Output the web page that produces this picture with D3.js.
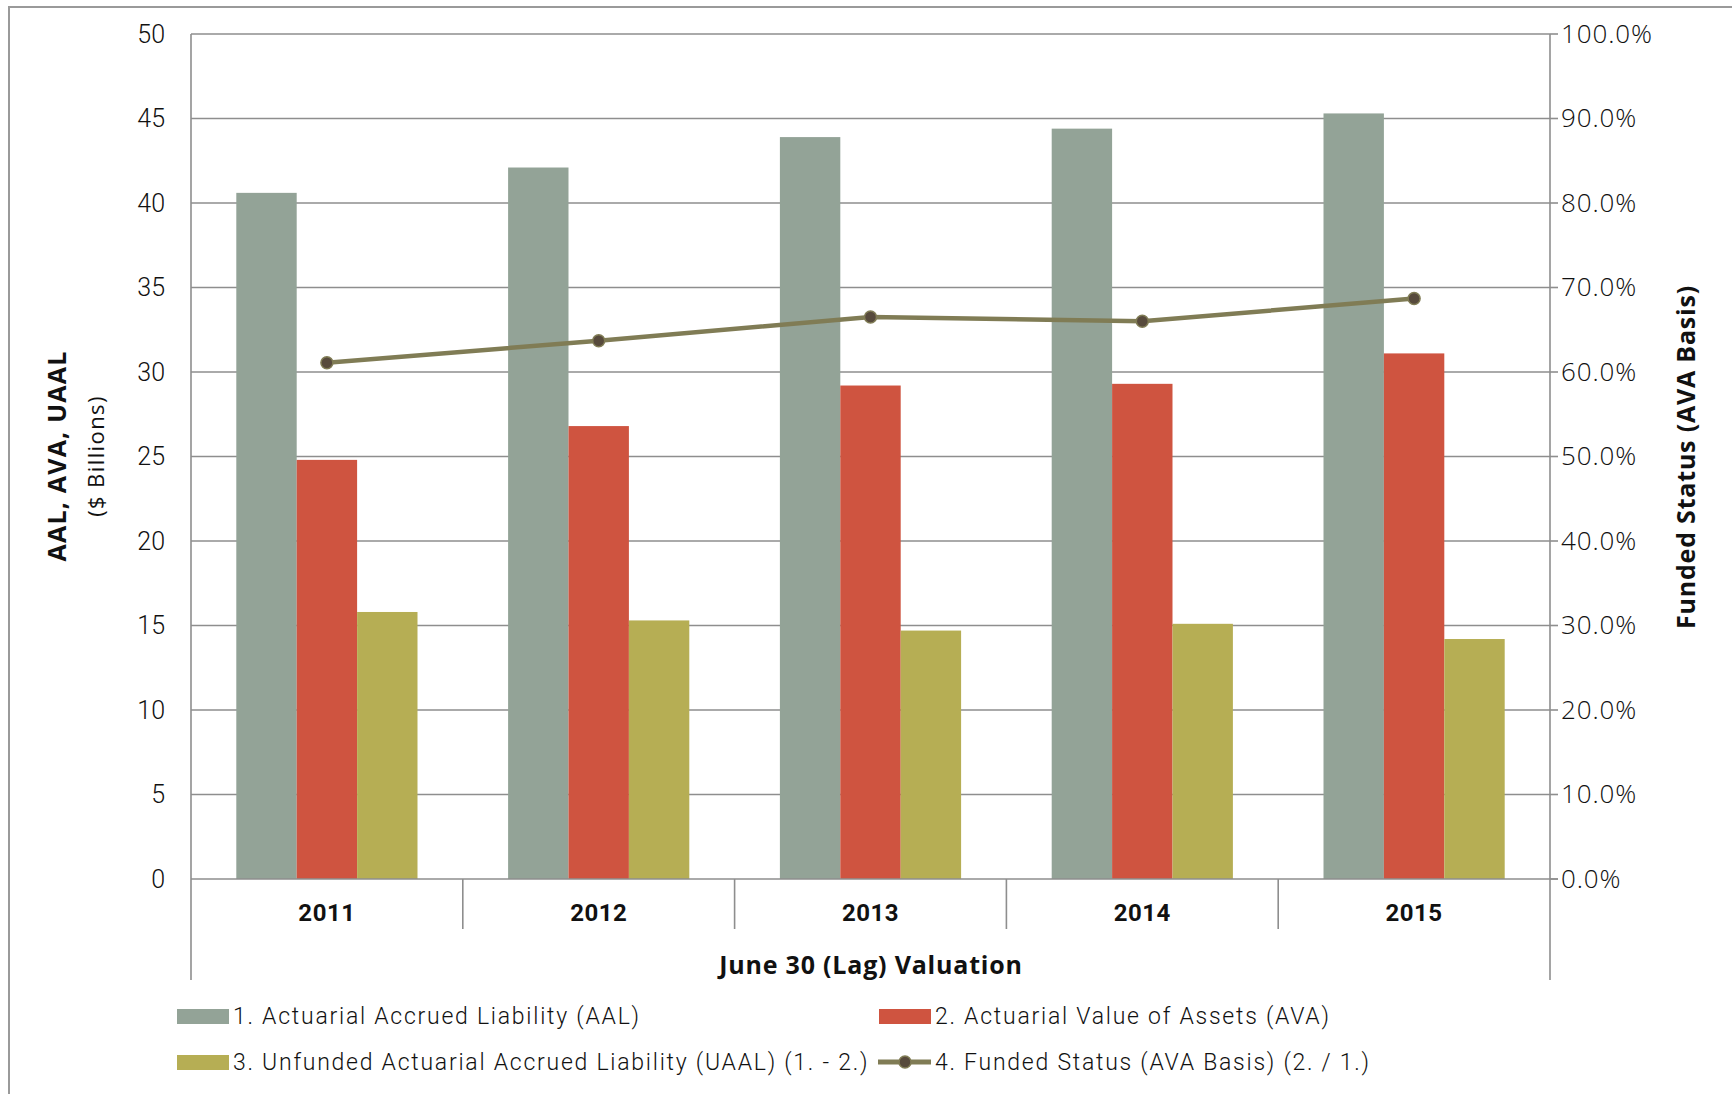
<!DOCTYPE html>
<html>
<head>
<meta charset="utf-8">
<script src="https://cdn.jsdelivr.net/npm/d3@7"></script>
<style>
  html, body { margin: 0; padding: 0; background: #fff; }
  svg { display: block; }
  text { fill: #111; }
</style>
</head>
<body>
<svg id="chart" width="1732" height="1094"></svg>
<script>
// Valuation years and series ($ billions, funded ratio in %)
const years = ["2011", "2012", "2013", "2014", "2015"];
const aal = [40.6, 42.1, 43.9, 44.4, 45.3];
const ava = [24.8, 26.8, 29.2, 29.3, 31.1];
const uaal = [15.8, 15.3, 14.7, 15.1, 14.2];
const funded = [61.1, 63.7, 66.5, 66.0, 68.7];

const leftTicks = [0, 5, 10, 15, 20, 25, 30, 35, 40, 45, 50];
const rightTicks = [0, 10, 20, 30, 40, 50, 60, 70, 80, 90, 100];

const seriesNames = ["1. Actuarial Accrued Liability (AAL)",
                     "2. Actuarial Value of Assets (AVA)",
                     "3. Unfunded Actuarial Accrued Liability (UAAL) (1. - 2.)",
                     "4. Funded Status (AVA Basis) (2. / 1.)"];
const colors = ["#93a397", "#cf5440", "#b6ae54"];
const lineColor = "#807c55";
const markerFill = "#574a3c";
const gridColor = "#8e8e8e";

const svg = d3.select("#chart");
const m = { left: 191, right: 1550, top: 34, bottom: 879 };

// outer frame
svg.append("path")
  .attr("d", `M9,1100 L9,7 L1740,7`)
  .attr("fill", "none").attr("stroke", "#9a9a9a").attr("stroke-width", 2);

const x = d3.scaleBand().domain(years).range([m.left, m.right]).paddingInner(0).paddingOuter(0);
// three bars per year, gap between groups 150% of a bar
const xs = d3.scaleBand().domain([0, 1, 2]).range([0, x.bandwidth()]).paddingInner(0).paddingOuter(0.75);
const y = d3.scaleLinear().domain([0, 50]).range([m.bottom, m.top]);
const y2 = d3.scaleLinear().domain([0, 100]).range([m.bottom, m.top]);

// horizontal gridlines
svg.append("g").selectAll("line").data(leftTicks.filter(d => d > 0)).join("line")
  .attr("x1", m.left).attr("x2", m.right)
  .attr("y1", d => y(d)).attr("y2", d => y(d))
  .attr("stroke", gridColor).attr("stroke-width", 1.6);

// bars
const groups = [aal, ava, uaal];
const barData = [];
years.forEach((yr, i) => groups.forEach((s, k) => barData.push({ yr, k, v: s[i] })));
svg.append("g").selectAll("rect").data(barData).join("rect")
  .attr("x", d => x(d.yr) + xs(d.k))
  .attr("width", xs.bandwidth())
  .attr("y", d => y(d.v))
  .attr("height", d => y(0) - y(d.v))
  .attr("fill", d => colors[d.k]);

// axes frame lines
const ax = svg.append("g").attr("stroke", gridColor).attr("stroke-width", 1.6);
ax.append("line").attr("x1", m.left).attr("x2", m.left).attr("y1", m.top).attr("y2", 980);
ax.append("line").attr("x1", m.right).attr("x2", m.right).attr("y1", m.top).attr("y2", 980);
ax.append("line").attr("x1", m.left).attr("x2", m.right + 8).attr("y1", m.bottom).attr("y2", m.bottom);
// category dividers below the baseline
ax.selectAll(".div").data(years.slice(1)).join("line")
  .attr("x1", d => x(d)).attr("x2", d => x(d))
  .attr("y1", m.bottom).attr("y2", 929);
// right-axis tick marks
ax.selectAll(".rt").data(rightTicks).join("line")
  .attr("x1", m.right).attr("x2", m.right + 8)
  .attr("y1", d => y2(d)).attr("y2", d => y2(d));

// left tick labels
const leftAxis = d3.axisLeft(y).tickValues(leftTicks).tickSize(0).tickPadding(26);
const gl = svg.append("g").attr("transform", `translate(${m.left},0)`).call(leftAxis);
gl.select(".domain").remove();
gl.selectAll("text").attr("font-family", "Roboto, sans-serif").attr("font-weight", 300)
  .attr("font-size", 25).attr("fill", "#111");

// right tick labels
const rightAxis = d3.axisRight(y2).tickValues(rightTicks).tickSize(0).tickPadding(11)
  .tickFormat(d => d.toFixed(1) + "%");
const gr = svg.append("g").attr("transform", `translate(${m.right},0)`).call(rightAxis);
gr.select(".domain").remove();
gr.selectAll("text").attr("font-family", "'Open Sans', sans-serif").attr("font-weight", 300)
  .attr("font-size", 26).attr("letter-spacing", 0.9).attr("fill", "#111");

// category labels
svg.append("g").selectAll("text").data(years).join("text")
  .attr("x", d => x(d) + x.bandwidth() / 2).attr("y", 921)
  .attr("text-anchor", "middle")
  .attr("font-family", "Roboto, sans-serif").attr("font-weight", 700).attr("font-size", 24)
  .attr("letter-spacing", 0.5)
  .text(d => d);

// axis titles
svg.append("text").attr("x", 871).attr("y", 974).attr("text-anchor", "middle")
  .attr("font-family", "'Open Sans', sans-serif").attr("font-weight", 700).attr("font-size", 25)
  .attr("letter-spacing", 0.8)
  .text("June 30 (Lag) Valuation");

svg.append("text").attr("transform", "translate(66,456) rotate(-90)").attr("text-anchor", "middle")
  .attr("font-family", "'Open Sans', sans-serif").attr("font-weight", 700).attr("font-size", 25)
  .attr("letter-spacing", 1.2)
  .text("AAL, AVA, UAAL");
svg.append("text").attr("transform", "translate(104,456) rotate(-90)").attr("text-anchor", "middle")
  .attr("font-family", "'Open Sans', sans-serif").attr("font-weight", 400).attr("font-size", 22)
  .attr("letter-spacing", 1.4)
  .text("($ Billions)");

svg.append("text").attr("transform", "translate(1695,457) rotate(-90)").attr("text-anchor", "middle")
  .attr("font-family", "'Open Sans', sans-serif").attr("font-weight", 700).attr("font-size", 25)
  .attr("letter-spacing", 0.8)
  .text("Funded Status (AVA Basis)");

// funded status line
const cx = i => x(years[i]) + x.bandwidth() / 2;
const line = d3.line().x((d, i) => cx(i)).y(d => y2(d));
svg.append("path").datum(funded).attr("d", line)
  .attr("fill", "none").attr("stroke", lineColor).attr("stroke-width", 4.5);
svg.append("g").selectAll("circle").data(funded).join("circle")
  .attr("cx", (d, i) => cx(i)).attr("cy", d => y2(d)).attr("r", 6)
  .attr("fill", markerFill).attr("stroke", lineColor).attr("stroke-width", 1.5);

// legend
const legend = [
  { t: seriesNames[0], c: colors[0], x: 177, y: 1016, type: "bar" },
  { t: seriesNames[1], c: colors[1], x: 879, y: 1016, type: "bar" },
  { t: seriesNames[2], c: colors[2], x: 177, y: 1062, type: "bar" },
  { t: seriesNames[3], c: lineColor, x: 879, y: 1062, type: "line" }
];
const lg = svg.append("g");
legend.forEach(d => {
  if (d.type === "bar") {
    lg.append("rect").attr("x", d.x).attr("y", d.y - 7).attr("width", 52).attr("height", 15).attr("fill", d.c);
  } else {
    lg.append("line").attr("x1", d.x - 1).attr("x2", d.x + 52).attr("y1", d.y).attr("y2", d.y)
      .attr("stroke", d.c).attr("stroke-width", 5);
    lg.append("circle").attr("cx", d.x + 26).attr("cy", d.y).attr("r", 6)
      .attr("fill", markerFill).attr("stroke", d.c).attr("stroke-width", 1.5);
  }
  lg.append("text").attr("x", d.x + 56).attr("y", d.y).attr("dy", "0.36em")
    .attr("font-family", "Roboto, sans-serif").attr("font-weight", 300).attr("font-size", 23)
    .attr("letter-spacing", 1.75)
    .text(d.t);
});
</script>
</body>
</html>
